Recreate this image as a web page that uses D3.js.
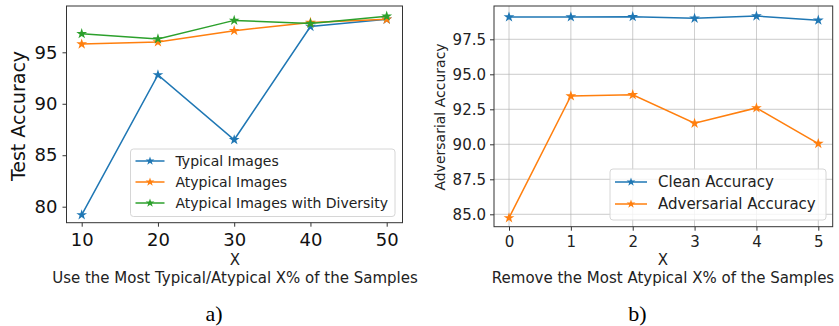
<!DOCTYPE html>
<meta charset="utf-8">
<style>
  body { margin: 0; background: #fff; }
  svg text { font-family: "DejaVu Sans", sans-serif; }
  .cap { font-family: "Liberation Serif", "DejaVu Serif", serif; }
</style>
<body>
<svg id="fig" width="839" height="326"></svg>
<script src="https://d3js.org/d3.v7.min.js"></script>
<script>
  // panel a)
  var pctA = [10, 20, 30, 40, 50];
  var typicalA = [79.2, 92.8, 86.5, 97.5, 98.2];
  var atypicalA = [95.8, 96.0, 97.1, 97.9, 98.2];
  var diversityA = [96.8, 96.3, 98.1, 97.8, 98.5];
  var namesA = ["Typical Images", "Atypical Images", "Atypical Images with Diversity"];
  var yTicksA = [80, 85, 90, 95];

  // panel b)
  var pctB = [0, 1, 2, 3, 4, 5];
  var cleanB = [99.09, 99.09, 99.11, 99.0, 99.16, 98.86];
  var advB = [84.74, 93.45, 93.54, 91.5, 92.6, 90.05];
  var namesB = ["Clean Accuracy", "Adversarial Accuracy"];
  var yTicksB = [85.0, 87.5, 90.0, 92.5, 95.0, 97.5];

  var colors = ["#1f77b4", "#ff7f0e", "#2ca02c"];
  var svg = d3.select("#fig");
  var star = d3.symbol().type(d3.symbolStar);

  function drawSeries(g, x, y, xs, ys, color, size) {
    var line = d3.line().x(function(d, i) { return x(xs[i]); }).y(function(d) { return y(d); });
    g.append("path").datum(ys).attr("d", line)
      .attr("fill", "none").attr("stroke", color).attr("stroke-width", 1.5);
    g.selectAll(null).data(ys).enter().append("path")
      .attr("d", star.size(size)())
      .attr("transform", function(d, i) { return "translate(" + x(xs[i]) + "," + y(d) + ")"; })
      .attr("fill", color);
  }

  function legend(g, x0, y0, w, h, names, rowH, fs, lineW, textX, first) {
    var lg = g.append("g");
    lg.append("rect").attr("x", x0).attr("y", y0).attr("width", w).attr("height", h)
      .attr("rx", 3).attr("fill", "white").attr("fill-opacity", 0.8)
      .attr("stroke", "#d6d6d6");
    names.forEach(function(n, i) {
      var cy = y0 + first + i * rowH;
      lg.append("line").attr("x1", x0 + 5).attr("x2", x0 + 5 + lineW).attr("y1", cy).attr("y2", cy)
        .attr("stroke", colors[i]).attr("stroke-width", 1.5);
      lg.append("path").attr("d", star.size(24)())
        .attr("transform", "translate(" + (x0 + 5 + lineW / 2) + "," + cy + ")").attr("fill", colors[i]);
      lg.append("text").attr("x", x0 + textX).attr("y", cy).attr("dy", "0.35em")
        .attr("font-size", fs).attr("fill", "#222").text(n);
    });
  }

  // ---------- a) ----------
  var xA = d3.scaleLinear().domain([10, 50]).range([81.7, 386.7]);
  var yA = d3.scaleLinear().domain([80, 95]).range([206.7, 52.3]);
  var gA = svg.append("g");
  var axA = gA.append("g").attr("transform", "translate(0,222.7)")
    .call(d3.axisBottom(xA).tickValues(pctA).tickSize(4).tickPadding(7));
  axA.selectAll("text").attr("font-size", 18).attr("fill", "#111");
  var ayA = gA.append("g").attr("transform", "translate(66.5,0)")
    .call(d3.axisLeft(yA).tickValues(yTicksA).tickSize(4).tickPadding(5));
  ayA.selectAll("text").attr("font-size", 18).attr("fill", "#111");
  [axA, ayA].forEach(function(a) { a.select(".domain").remove(); a.selectAll("line").attr("stroke", "#333"); });
  gA.append("rect").attr("x", 66.5).attr("y", 6).attr("width", 336).attr("height", 216.7)
    .attr("fill", "none").attr("stroke", "#333").attr("stroke-width", 1);

  drawSeries(gA, xA, yA, pctA, typicalA, colors[0], 36);
  drawSeries(gA, xA, yA, pctA, atypicalA, colors[1], 36);
  drawSeries(gA, xA, yA, pctA, diversityA, colors[2], 36);
  legend(gA, 130.5, 149, 264.5, 67.5, namesA, 21, 14, 29, 45, 12);

  gA.append("text").attr("transform", "translate(24.5,116) rotate(-90)")
    .attr("text-anchor", "middle").attr("font-size", 19).attr("fill", "#111").text("Test Accuracy");
  gA.append("text").attr("x", 235).attr("y", 265).attr("text-anchor", "middle")
    .attr("font-size", 15).attr("fill", "#222").text("X");
  gA.append("text").attr("x", 235).attr("y", 283).attr("text-anchor", "middle")
    .attr("font-size", 15).attr("fill", "#222").text("Use the Most Typical/Atypical X% of the Samples");
  gA.append("text").attr("class", "cap").attr("x", 214).attr("y", 321).attr("text-anchor", "middle")
    .attr("font-size", 22).attr("fill", "#000").text("a)");

  // ---------- b) ----------
  var xB = d3.scaleLinear().domain([0, 5]).range([509, 818.3]);
  var yB = d3.scaleLinear().domain([85, 97.5]).range([214.3, 39.3]);
  var gB = svg.append("g");
  // grid
  gB.selectAll(null).data(pctB).enter().append("line")
    .attr("x1", function(d) { return xB(d); }).attr("x2", function(d) { return xB(d); })
    .attr("y1", 6).attr("y2", 226.7).attr("stroke", "#b0b0b0").attr("stroke-width", 0.8).attr("opacity", 0.8);
  gB.selectAll(null).data(yTicksB).enter().append("line")
    .attr("y1", function(d) { return yB(d); }).attr("y2", function(d) { return yB(d); })
    .attr("x1", 494).attr("x2", 832.7).attr("stroke", "#b0b0b0").attr("stroke-width", 0.8).attr("opacity", 0.8);
  var axB = gB.append("g").attr("transform", "translate(0,226.7)")
    .call(d3.axisBottom(xB).tickValues(pctB).tickSize(4).tickPadding(5.5).tickFormat(d3.format("d")));
  axB.selectAll("text").attr("font-size", 15).attr("fill", "#222");
  var ayB = gB.append("g").attr("transform", "translate(494,0)")
    .call(d3.axisLeft(yB).tickValues(yTicksB).tickSize(4).tickPadding(4).tickFormat(d3.format(".1f")));
  ayB.selectAll("text").attr("font-size", 15).attr("fill", "#222");
  [axB, ayB].forEach(function(a) { a.select(".domain").remove(); a.selectAll("line").attr("stroke", "#333"); });
  gB.append("rect").attr("x", 494).attr("y", 6).attr("width", 338.7).attr("height", 220.7)
    .attr("fill", "none").attr("stroke", "#333").attr("stroke-width", 1);

  drawSeries(gB, xB, yB, pctB, cleanB, colors[0], 36);
  drawSeries(gB, xB, yB, pctB, advB, colors[1], 36);
  legend(gB, 610, 169, 216, 51, namesB, 22, 15, 32, 48, 13);

  gB.append("text").attr("transform", "translate(445,117) rotate(-90)")
    .attr("text-anchor", "middle").attr("font-size", 14).attr("fill", "#222").text("Adversarial Accuracy");
  gB.append("text").attr("x", 663).attr("y", 265).attr("text-anchor", "middle")
    .attr("font-size", 15).attr("fill", "#222").text("X");
  gB.append("text").attr("x", 663).attr("y", 283).attr("text-anchor", "middle")
    .attr("font-size", 15).attr("fill", "#222").text("Remove the Most Atypical X% of the Samples");
  gB.append("text").attr("class", "cap").attr("x", 637.5).attr("y", 321).attr("text-anchor", "middle")
    .attr("font-size", 22).attr("fill", "#000").text("b)");
</script>
</body>
